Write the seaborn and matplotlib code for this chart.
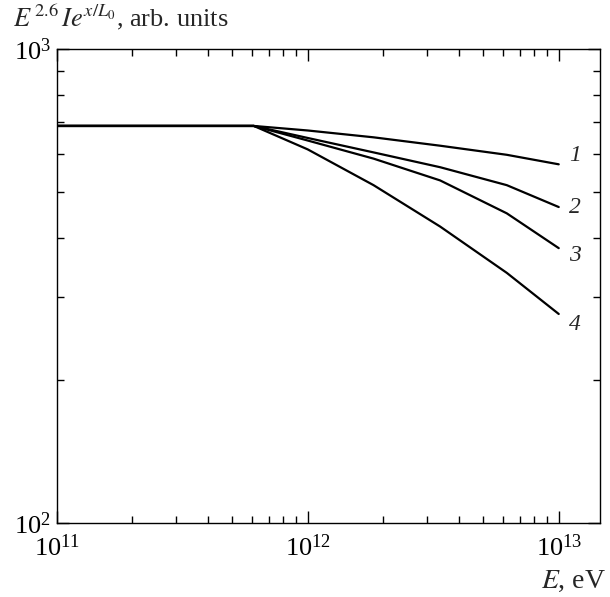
import numpy as np
import pandas as pd
import matplotlib
matplotlib.use("Agg")
import matplotlib.pyplot as plt
import seaborn as sns
from matplotlib.ticker import LogLocator, NullFormatter

# Energy grid, eV
energy = [1e11, 6.1e11, 1.0e12, 1.83e12, 3.37e12, 6.21e12, 1.0e13]

# E^2.6 * I * exp(x/L0) for the four curves, arb. units
curve_1 = [688, 688, 673, 651, 625, 598, 571]
curve_2 = [688, 688, 649, 605, 563, 516, 464]
curve_3 = [688, 688, 641, 587, 528, 450, 380]
curve_4 = [688, 688, 614, 516, 422, 337, 276]

curve_names = ["1", "2", "3", "4"]
curves = [curve_1, curve_2, curve_3, curve_4]

frames = []
for name, vals in zip(curve_names, curves):
    frames.append(pd.DataFrame({"E": energy, "F": vals, "curve": name}))
df = pd.concat(frames, ignore_index=True)

sns.set_style("ticks")
plt.rcParams["font.family"] = ["Liberation Serif", "DejaVu Serif"]
plt.rcParams["mathtext.fontset"] = "stix"
plt.rcParams["ytick.alignment"] = "center_baseline"

fig = plt.figure(figsize=(6.10, 5.97), dpi=100)
ax = fig.add_axes([0.0928, 0.1240, 0.8908, 0.7940])

sns.lineplot(data=df, x="E", y="F", hue="curve",
             palette=["black"] * 4, linewidth=1.6, legend=False, ax=ax,
             estimator=None, sort=False)
for line in ax.get_lines():
    line.set_solid_joinstyle("round")

ax.set_xscale("log")
ax.set_yscale("log")
ax.set_xlim(1e11, 1.46e13)
ax.set_ylim(100, 1000)

ax.xaxis.set_major_locator(LogLocator(base=10, numticks=10))
ax.xaxis.set_minor_locator(LogLocator(base=10, subs=np.arange(2, 10), numticks=20))
ax.yaxis.set_major_locator(LogLocator(base=10, numticks=10))
ax.yaxis.set_minor_locator(LogLocator(base=10, subs=np.arange(2, 10), numticks=20))
ax.xaxis.set_minor_formatter(NullFormatter())
ax.yaxis.set_minor_formatter(NullFormatter())

ax.tick_params(which="both", direction="in", top=True, right=True,
               width=1.0, colors="black", labelsize=19)
ax.tick_params(which="major", length=8.5)
ax.tick_params(which="minor", length=5)
ax.tick_params(axis="x", which="major", pad=8)
ax.tick_params(axis="y", which="major", pad=4)
for s in ax.spines.values():
    s.set_linewidth(1.0)
    s.set_color("black")

ax.set_xlabel("")
ax.set_ylabel("")

# Curve numbers at the right-hand end of each line
label_offsets = [1.045, 1.0, 0.965, 0.95]
for name, vals, off in zip(curve_names, curves, label_offsets):
    ax.text(1.10e13, vals[-1] * off, name, fontsize=17, style="italic",
            ha="left", va="center")

fig.text(0.021, 0.955, r"$E^{\,2.6}\,Ie^{x/L_0}$, arb. units",
         fontsize=19, ha="left", va="baseline")
fig.text(0.993, 0.016, r"$E$, eV", fontsize=20, ha="right", va="baseline")

fig.savefig("out.png", dpi=100)
